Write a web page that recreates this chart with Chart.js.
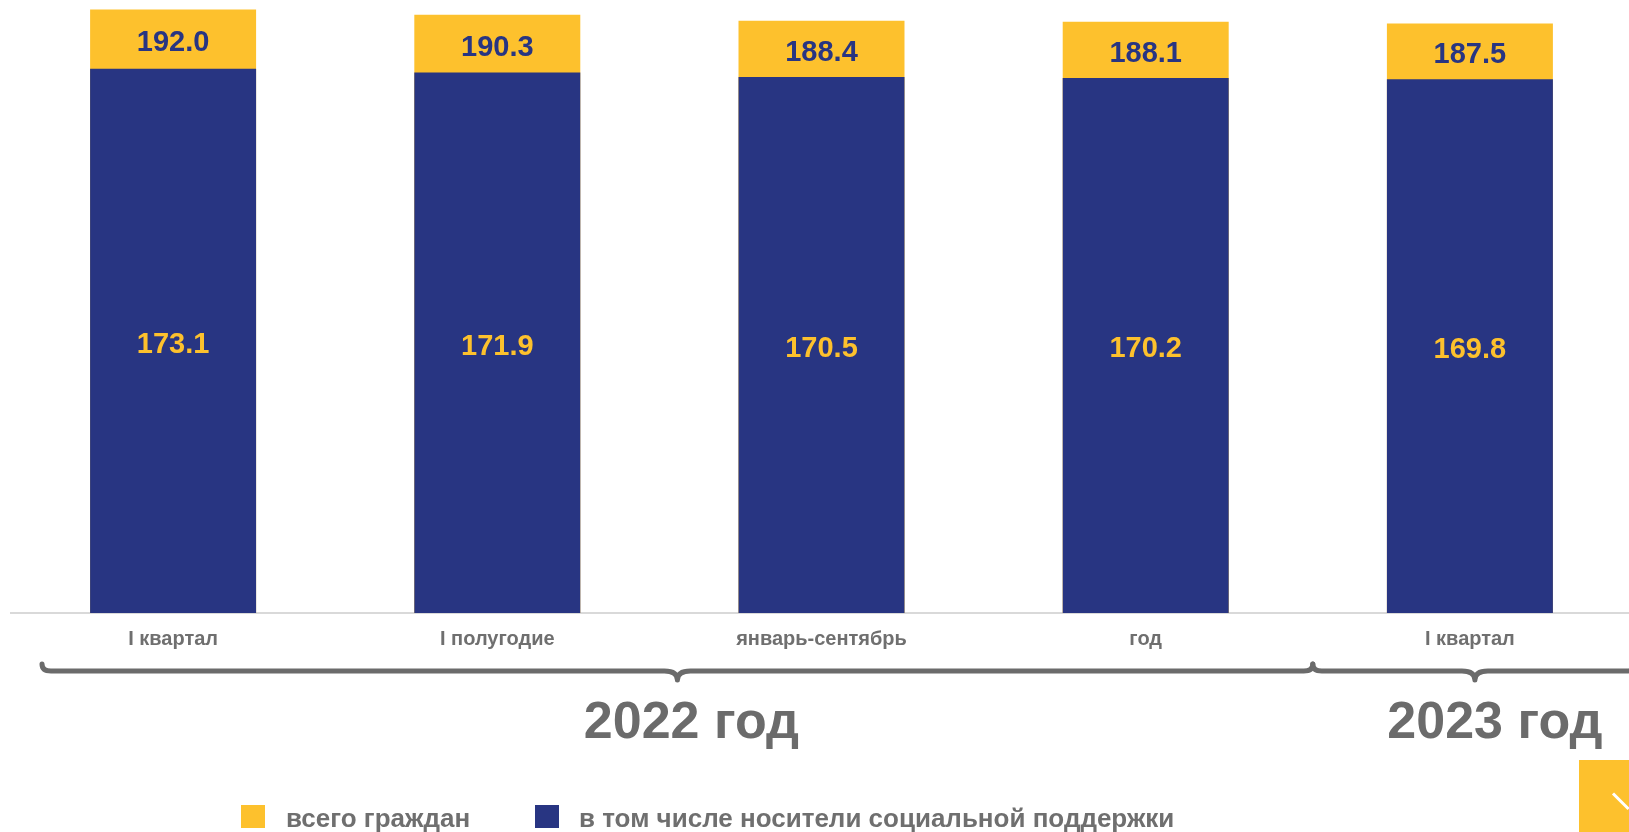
<!DOCTYPE html>
<html>
<head>
<meta charset="utf-8">
<script src="https://cdn.jsdelivr.net/npm/chart.js@4/dist/chart.umd.min.js"></script>
<style>
  html, body { margin: 0; padding: 0; background: #fff; overflow: hidden; width: 1629px; height: 832px; }
  #wrap { position: absolute; left: 0; top: 0; width: 1640px; height: 832px; }
  .lg { position: absolute; font-family: "Liberation Sans", Arial, sans-serif; font-weight: bold; font-size: 26px; line-height: 30px; color: #6f6f6f; white-space: nowrap; }
  .sw { position: absolute; width: 24px; height: 23px; }
  #corner { position: absolute; left: 1579px; top: 760px; width: 60px; height: 80px; background: #FDC12D; overflow: hidden; }
  #corner i { position: absolute; left: 34px; top: 32px; width: 22px; height: 3px; background: #fff; transform: rotate(45deg); transform-origin: left center; }
</style>
</head>
<body>
<div id="wrap"><canvas id="c" width="1640" height="832"></canvas></div>
<div class="sw" style="left:241px;top:805px;background:#FDC12D"></div>
<div class="lg" style="left:286px;top:803px">всего граждан</div>
<div class="sw" style="left:535px;top:805px;background:#283582"></div>
<div class="lg" style="left:579px;top:803px">в том числе носители социальной поддержки</div>
<div id="corner"><i></i></div>
<script>
const categories = ['I квартал', 'I полугодие', 'январь-сентябрь', 'год', 'I квартал'];
const totalCitizens = [192.0, 190.3, 188.4, 188.1, 187.5];
const socialSupport = [173.1, 171.9, 170.5, 170.2, 169.8];
const groupLabels = ['2022 год', '2023 год'];
const groupStart = [0, 4];
const groupEnd = [3, 4];

const YELLOW = '#FDC12D';
const NAVY = '#283582';
const GREY = '#6b6b6b';
const FONT = '"Liberation Sans", Arial, sans-serif';

Chart.defaults.font.family = FONT;

const labelsPlugin = {
  id: 'valueLabels',
  afterDatasetsDraw(chart) {
    const ctx = chart.ctx;
    const metaTotal = chart.getDatasetMeta(0);
    const metaSub = chart.getDatasetMeta(1);
    ctx.save();
    ctx.font = 'bold 29px ' + FONT;
    ctx.textAlign = 'center';
    ctx.textBaseline = 'middle';
    metaTotal.data.forEach((bar, i) => {
      const sub = metaSub.data[i];
      ctx.fillStyle = NAVY;
      ctx.fillText(totalCitizens[i].toFixed(1), bar.x, (bar.y + sub.y) / 2 + 4);
      ctx.fillStyle = YELLOW;
      ctx.fillText(socialSupport[i].toFixed(1), sub.x, (sub.y + sub.base) / 2 + 4);
    });
    ctx.restore();
  }
};

const bracePlugin = {
  id: 'braces',
  afterDraw(chart) {
    const ctx = chart.ctx;
    const xs = chart.scales.x;
    const half = (xs.getPixelForValue(1) - xs.getPixelForValue(0)) / 2;
    const y = 671;
    ctx.save();
    ctx.strokeStyle = GREY;
    ctx.lineWidth = 5;
    ctx.lineCap = 'round';
    ctx.lineJoin = 'round';
    groupLabels.forEach((g, k) => {
      const x0 = xs.getPixelForValue(groupStart[k]) - half + (k === 0 ? 31 : 5);
      const x1 = xs.getPixelForValue(groupEnd[k]) + half + 5;
      const xm = (x0 + x1) / 2;
      const re = 7, rt = 9;
      ctx.beginPath();
      ctx.moveTo(x0, y - re);
      ctx.quadraticCurveTo(x0, y, x0 + re + 2, y);
      ctx.lineTo(xm - rt - 4, y);
      ctx.quadraticCurveTo(xm, y, xm, y + rt);
      ctx.quadraticCurveTo(xm, y, xm + rt + 4, y);
      ctx.lineTo(x1 - re - 2, y);
      ctx.quadraticCurveTo(x1, y, x1, y - re);
      ctx.stroke();
      ctx.fillStyle = GREY;
      ctx.font = 'bold 52px ' + FONT;
      ctx.textAlign = 'center';
      ctx.textBaseline = 'middle';
      ctx.fillText(g, xm + (k === 0 ? 14 : 20), y + 53);
    });
    ctx.restore();
  }
};

new Chart(document.getElementById('c'), {
  type: 'bar',
  data: {
    labels: categories,
    datasets: [
      { label: 'всего граждан', data: totalCitizens, backgroundColor: YELLOW, order: 2 },
      { label: 'в том числе носители социальной поддержки', data: socialSupport, backgroundColor: NAVY, order: 1 }
    ]
  },
  options: {
    responsive: false,
    animation: false,
    devicePixelRatio: 1,
    layout: { padding: { left: 11, right: 8, top: 0, bottom: 0 } },
    datasets: { bar: { grouped: false, barPercentage: 0.512, categoryPercentage: 1 } },
    plugins: { legend: { display: false }, tooltip: { enabled: false } },
    scales: {
      y: { display: false, min: 0, max: 195 },
      x: {
        grid: { display: false, drawTicks: false },
        border: { display: true, color: '#d9d9d9', width: 2 },
        ticks: { color: '#6f6f6f', font: { size: 20, weight: 'bold', family: FONT }, padding: 14, maxRotation: 0, autoSkip: false },
        afterFit(axis) { axis.height = 832 - 613; }
      }
    }
  },
  plugins: [labelsPlugin, bracePlugin]
});
</script>
</body>
</html>
